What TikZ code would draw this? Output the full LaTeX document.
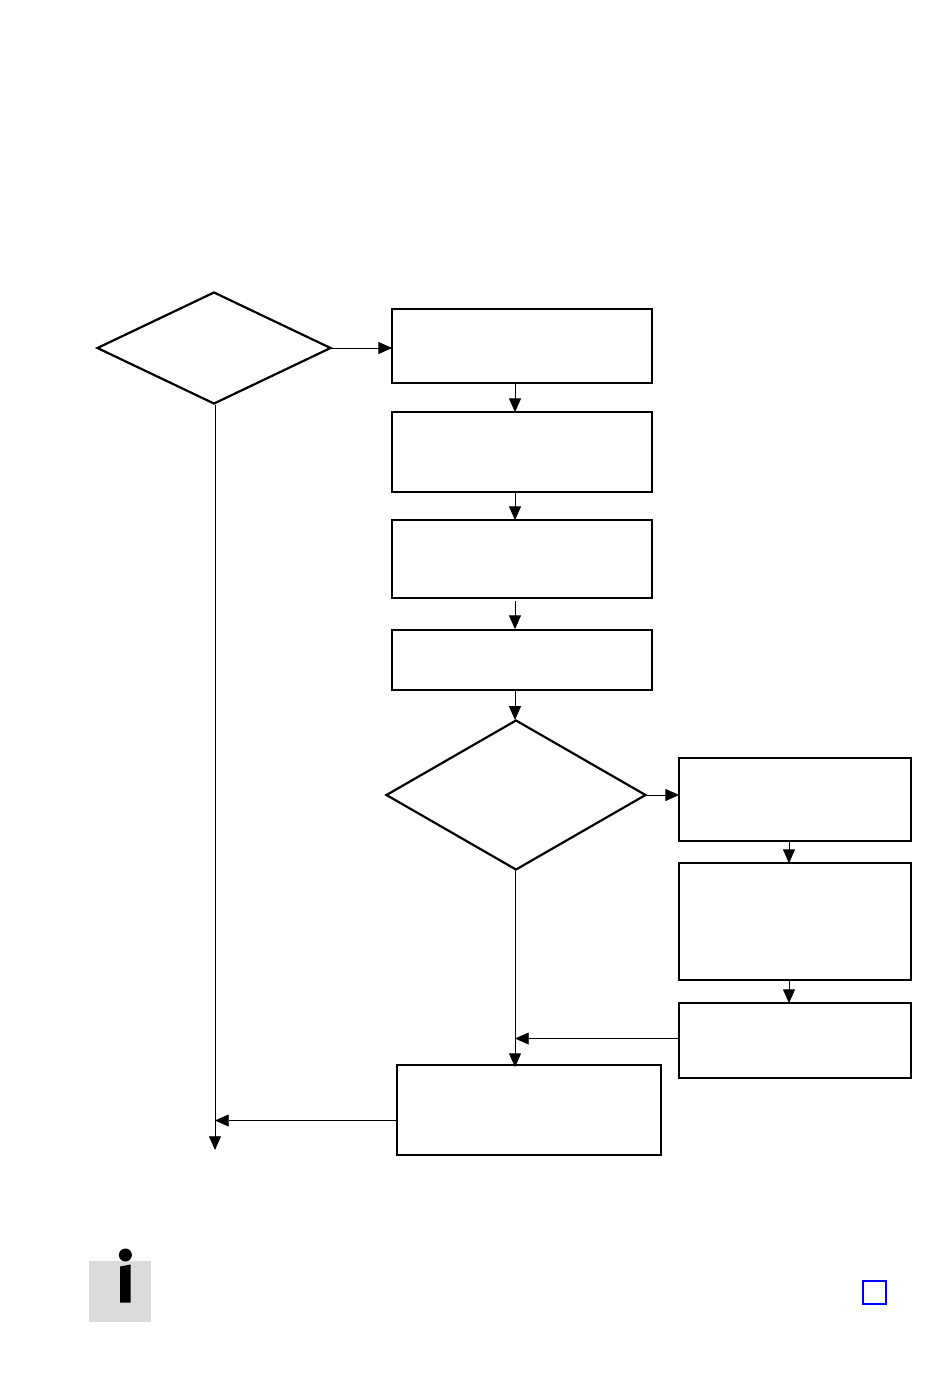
\documentclass[tikz,border=0pt]{standalone}
\usetikzlibrary{arrows.meta,shapes.geometric}
\tikzset{
  flowbox/.style={draw,rectangle,line width=1pt,inner sep=0pt},
  decide/.style={draw,diamond,line width=1.25pt,inner sep=0pt},
  link/.style={line width=0.45pt,-{Triangle[length=7.8pt,width=6.8pt]}}
}
\begin{document}
\begin{tikzpicture}[x=0.02cm,y=-0.02cm]
      \useasboundingbox (0,0) rectangle (950,1374);
      \draw
        (214,348) node[decide,minimum width=4.68cm,minimum height=2.24cm] (ask1){}
        (522,346) node[flowbox,minimum width=5.2cm,minimum height=1.48cm] (box1){}
        (522,452) node[flowbox,minimum width=5.2cm,minimum height=1.6cm] (box2){}
        (522,559) node[flowbox,minimum width=5.2cm,minimum height=1.56cm] (box3){}
        (522,660) node[flowbox,minimum width=5.2cm,minimum height=1.2cm] (box4){}
        (516,795) node[decide,minimum width=5.2cm,minimum height=3cm] (ask2){}
        (795,799.5) node[flowbox,minimum width=4.64cm,minimum height=1.66cm] (box5){}
        (795,921.5) node[flowbox,minimum width=4.64cm,minimum height=2.34cm] (box6){}
        (795,1040.5) node[flowbox,minimum width=4.64cm,minimum height=1.5cm] (box7){}
        (529,1110) node[flowbox,minimum width=5.28cm,minimum height=1.8cm] (box8){};
      \coordinate (leftend) at (215,1150);
      \coordinate (leftjoin) at (215,1120.5);
      \coordinate (midjoin) at (515,1038.5);
      \coordinate (midline) at (515,900);
      \coordinate (rightline) at (789,900);
      % the icon and the small square
      \node[fill=black!14,minimum size=1.23cm,inner sep=0pt] (icon) at (120.2,1291.3){};
      \node[fill=black,circle,minimum size=0.26cm,inner sep=0pt] (icondot) at (125.4,1255){};
      \fill (120,1266.5) -- (130.7,1264.5) -- (130.7,1302.5) -- (120,1302.5) -- cycle;
      \node[draw=blue,line width=1.1pt,minimum size=0.46cm,inner sep=0pt] (mark1) at (874.5,1292.3){};
      \begin{scope}[link]
        \draw (ask1.east) to ([xshift=0.02cm]ask1.east -| box1.west);
        \draw (box1.south -| midline) to ([yshift=-0.02cm]box2.north -| midline);
        \draw (box2.south -| midline) to ([yshift=-0.02cm]box3.north -| midline);
        \draw[shorten <=1pt] (box3.south -| midline) to (box4.north -| midline);
        \draw (box4.south -| midline) to ([yshift=-0.02cm]ask2.north -| midline);
        \draw (ask2.east) to ([xshift=0.02cm]ask2.east -| box5.west);
        \draw (box5.south -| rightline) to ([yshift=-0.02cm]box6.north -| rightline);
        \draw (box6.south -| rightline) to ([yshift=-0.02cm]box7.north -| rightline);
        \draw (midjoin -| box7.west) to (midjoin);
        \draw (ask2.south -| midline) to ([yshift=-0.06cm]box8.north -| midline);
        \draw (leftjoin -| box8.west) to (leftjoin);
        \draw (ask1.south -| leftend) to (leftend);
      \end{scope}
    \end{tikzpicture}
\end{document}
